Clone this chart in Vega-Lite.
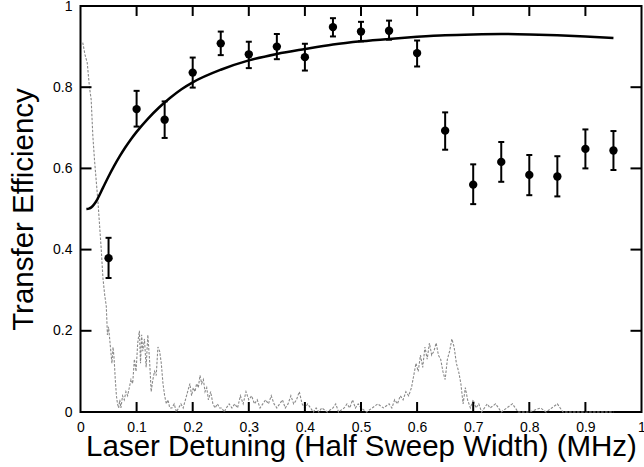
{
  "$schema": "https://vega.github.io/schema/vega-lite/v6.json",
  "width": 561,
  "height": 406,
  "autosize": {"type": "none"},
  "padding": {"left": 80.5, "top": 6, "right": 2.5, "bottom": 55},
  "background": "white",
  "config": {
    "view": {"stroke": "black", "strokeWidth": 2},
    "font": "Liberation Sans",
    "axis": {
      "domain": false,
      "grid": false,
      "ticks": false,
      "labelColor": "black",
      "labelFontSize": 14,
      "titleFontSize": 29.5,
      "titleFontWeight": "normal",
      "titleColor": "black",
      "labelOverlap": false,
      "labelBound": false,
      "labelFlush": false
    }
  },
  "datasets": {
    "xticks": [{"v": 0.1}, {"v": 0.2}, {"v": 0.3}, {"v": 0.4}, {"v": 0.5}, {"v": 0.6}, {"v": 0.7}, {"v": 0.8}, {"v": 0.9}],
    "yticks": [{"v": 0.2}, {"v": 0.4}, {"v": 0.6}, {"v": 0.8}],
    "spectrum": [
      {"x": 0.004, "y": 0.91}, {"x": 0.008, "y": 0.88}, {"x": 0.012, "y": 0.86}, {"x": 0.016, "y": 0.8},
      {"x": 0.019, "y": 0.77}, {"x": 0.022, "y": 0.68}, {"x": 0.025, "y": 0.62}, {"x": 0.028, "y": 0.57},
      {"x": 0.031, "y": 0.52}, {"x": 0.034, "y": 0.46}, {"x": 0.037, "y": 0.4}, {"x": 0.04, "y": 0.33},
      {"x": 0.043, "y": 0.29}, {"x": 0.046, "y": 0.26}, {"x": 0.048, "y": 0.19}, {"x": 0.05, "y": 0.21},
      {"x": 0.052, "y": 0.18}, {"x": 0.054, "y": 0.15}, {"x": 0.056, "y": 0.12}, {"x": 0.058, "y": 0.16},
      {"x": 0.06, "y": 0.13}, {"x": 0.062, "y": 0.08}, {"x": 0.064, "y": 0.04}, {"x": 0.066, "y": 0.02},
      {"x": 0.068, "y": 0.01}, {"x": 0.07, "y": 0.03}, {"x": 0.072, "y": 0.01}, {"x": 0.075, "y": 0.04},
      {"x": 0.078, "y": 0.03}, {"x": 0.081, "y": 0.05}, {"x": 0.084, "y": 0.04}, {"x": 0.087, "y": 0.06},
      {"x": 0.09, "y": 0.08}, {"x": 0.093, "y": 0.07}, {"x": 0.096, "y": 0.13}, {"x": 0.099, "y": 0.1},
      {"x": 0.102, "y": 0.17}, {"x": 0.105, "y": 0.2}, {"x": 0.107, "y": 0.12}, {"x": 0.109, "y": 0.19},
      {"x": 0.111, "y": 0.15}, {"x": 0.114, "y": 0.18}, {"x": 0.117, "y": 0.11}, {"x": 0.12, "y": 0.19},
      {"x": 0.123, "y": 0.13}, {"x": 0.126, "y": 0.05}, {"x": 0.129, "y": 0.08}, {"x": 0.132, "y": 0.1},
      {"x": 0.135, "y": 0.09}, {"x": 0.138, "y": 0.16}, {"x": 0.141, "y": 0.15}, {"x": 0.144, "y": 0.12},
      {"x": 0.147, "y": 0.07}, {"x": 0.15, "y": 0.04}, {"x": 0.153, "y": 0.02}, {"x": 0.156, "y": 0.03},
      {"x": 0.159, "y": 0.01}, {"x": 0.163, "y": 0.01}, {"x": 0.167, "y": 0.02}, {"x": 0.171, "y": 0.0},
      {"x": 0.175, "y": 0.01}, {"x": 0.179, "y": 0.02}, {"x": 0.183, "y": 0.01}, {"x": 0.187, "y": 0.03},
      {"x": 0.191, "y": 0.05}, {"x": 0.195, "y": 0.07}, {"x": 0.198, "y": 0.04}, {"x": 0.201, "y": 0.06},
      {"x": 0.204, "y": 0.05}, {"x": 0.207, "y": 0.07}, {"x": 0.21, "y": 0.06}, {"x": 0.213, "y": 0.09},
      {"x": 0.216, "y": 0.07}, {"x": 0.219, "y": 0.08}, {"x": 0.222, "y": 0.05}, {"x": 0.225, "y": 0.06},
      {"x": 0.228, "y": 0.03}, {"x": 0.232, "y": 0.05}, {"x": 0.236, "y": 0.02}, {"x": 0.24, "y": 0.01},
      {"x": 0.244, "y": 0.02}, {"x": 0.248, "y": 0.01}, {"x": 0.252, "y": 0.01}, {"x": 0.256, "y": 0.0},
      {"x": 0.26, "y": 0.01}, {"x": 0.265, "y": 0.02}, {"x": 0.27, "y": 0.01}, {"x": 0.275, "y": 0.02},
      {"x": 0.28, "y": 0.01}, {"x": 0.285, "y": 0.04}, {"x": 0.29, "y": 0.02}, {"x": 0.295, "y": 0.05},
      {"x": 0.3, "y": 0.03}, {"x": 0.305, "y": 0.04}, {"x": 0.31, "y": 0.02}, {"x": 0.315, "y": 0.03},
      {"x": 0.32, "y": 0.01}, {"x": 0.325, "y": 0.02}, {"x": 0.33, "y": 0.03}, {"x": 0.335, "y": 0.02},
      {"x": 0.34, "y": 0.04}, {"x": 0.345, "y": 0.02}, {"x": 0.35, "y": 0.01}, {"x": 0.355, "y": 0.02},
      {"x": 0.36, "y": 0.03}, {"x": 0.365, "y": 0.01}, {"x": 0.37, "y": 0.02}, {"x": 0.375, "y": 0.04},
      {"x": 0.38, "y": 0.02}, {"x": 0.385, "y": 0.03}, {"x": 0.39, "y": 0.05}, {"x": 0.395, "y": 0.02},
      {"x": 0.4, "y": 0.01}, {"x": 0.405, "y": 0.02}, {"x": 0.41, "y": 0.01}, {"x": 0.415, "y": 0.0},
      {"x": 0.42, "y": 0.01}, {"x": 0.425, "y": 0.0}, {"x": 0.43, "y": 0.01}, {"x": 0.44, "y": 0.0},
      {"x": 0.45, "y": 0.01}, {"x": 0.455, "y": 0.02}, {"x": 0.46, "y": 0.0}, {"x": 0.47, "y": 0.01},
      {"x": 0.475, "y": 0.02}, {"x": 0.48, "y": 0.01}, {"x": 0.485, "y": 0.03}, {"x": 0.49, "y": 0.01},
      {"x": 0.495, "y": 0.02}, {"x": 0.5, "y": 0.01}, {"x": 0.51, "y": 0.0}, {"x": 0.52, "y": 0.01},
      {"x": 0.53, "y": 0.02}, {"x": 0.54, "y": 0.01}, {"x": 0.55, "y": 0.02}, {"x": 0.555, "y": 0.01},
      {"x": 0.56, "y": 0.03}, {"x": 0.565, "y": 0.02}, {"x": 0.57, "y": 0.04}, {"x": 0.575, "y": 0.03},
      {"x": 0.58, "y": 0.05}, {"x": 0.585, "y": 0.04}, {"x": 0.59, "y": 0.06}, {"x": 0.594, "y": 0.09},
      {"x": 0.598, "y": 0.12}, {"x": 0.602, "y": 0.1}, {"x": 0.606, "y": 0.14}, {"x": 0.61, "y": 0.11},
      {"x": 0.614, "y": 0.16}, {"x": 0.618, "y": 0.13}, {"x": 0.622, "y": 0.17}, {"x": 0.626, "y": 0.14},
      {"x": 0.63, "y": 0.15}, {"x": 0.634, "y": 0.17}, {"x": 0.638, "y": 0.14}, {"x": 0.642, "y": 0.13},
      {"x": 0.646, "y": 0.1}, {"x": 0.65, "y": 0.08}, {"x": 0.654, "y": 0.13}, {"x": 0.658, "y": 0.15},
      {"x": 0.662, "y": 0.18}, {"x": 0.666, "y": 0.16}, {"x": 0.67, "y": 0.12}, {"x": 0.674, "y": 0.1},
      {"x": 0.678, "y": 0.07}, {"x": 0.682, "y": 0.02}, {"x": 0.686, "y": 0.06}, {"x": 0.69, "y": 0.03},
      {"x": 0.695, "y": 0.01}, {"x": 0.7, "y": 0.03}, {"x": 0.705, "y": 0.01}, {"x": 0.71, "y": 0.02},
      {"x": 0.715, "y": 0.0}, {"x": 0.72, "y": 0.01}, {"x": 0.725, "y": 0.02}, {"x": 0.73, "y": 0.01},
      {"x": 0.74, "y": 0.02}, {"x": 0.745, "y": 0.01}, {"x": 0.75, "y": 0.0}, {"x": 0.76, "y": 0.01},
      {"x": 0.77, "y": 0.02}, {"x": 0.775, "y": 0.01}, {"x": 0.78, "y": 0.0}, {"x": 0.8, "y": 0.0},
      {"x": 0.82, "y": 0.01}, {"x": 0.83, "y": 0.0}, {"x": 0.84, "y": 0.01}, {"x": 0.85, "y": 0.02},
      {"x": 0.855, "y": 0.01}, {"x": 0.86, "y": 0.0}, {"x": 0.95, "y": 0.0}
    ],
    "fit": [
      {"x": 0.0105, "y": 0.5}, {"x": 0.015, "y": 0.501}, {"x": 0.02, "y": 0.505}, {"x": 0.025, "y": 0.513},
      {"x": 0.03, "y": 0.524}, {"x": 0.04, "y": 0.552}, {"x": 0.05, "y": 0.58}, {"x": 0.06, "y": 0.606},
      {"x": 0.07, "y": 0.63}, {"x": 0.08, "y": 0.652}, {"x": 0.09, "y": 0.672}, {"x": 0.1, "y": 0.69},
      {"x": 0.12, "y": 0.722}, {"x": 0.14, "y": 0.75}, {"x": 0.16, "y": 0.774}, {"x": 0.18, "y": 0.795},
      {"x": 0.2, "y": 0.812}, {"x": 0.25, "y": 0.843}, {"x": 0.3, "y": 0.866}, {"x": 0.35, "y": 0.882},
      {"x": 0.4, "y": 0.894}, {"x": 0.45, "y": 0.905}, {"x": 0.5, "y": 0.913}, {"x": 0.55, "y": 0.919},
      {"x": 0.6, "y": 0.924}, {"x": 0.65, "y": 0.928}, {"x": 0.7, "y": 0.93}, {"x": 0.75, "y": 0.931},
      {"x": 0.8, "y": 0.93}, {"x": 0.85, "y": 0.928}, {"x": 0.9, "y": 0.925}, {"x": 0.95, "y": 0.921}
    ],
    "points": [
      {"x": 0.05, "y": 0.379, "lo": 0.33, "hi": 0.429},
      {"x": 0.1, "y": 0.746, "lo": 0.703, "hi": 0.791},
      {"x": 0.15, "y": 0.72, "lo": 0.675, "hi": 0.765},
      {"x": 0.2, "y": 0.836, "lo": 0.799, "hi": 0.873},
      {"x": 0.25, "y": 0.908, "lo": 0.879, "hi": 0.937},
      {"x": 0.3, "y": 0.881, "lo": 0.847, "hi": 0.912},
      {"x": 0.35, "y": 0.9, "lo": 0.869, "hi": 0.931},
      {"x": 0.4, "y": 0.874, "lo": 0.841, "hi": 0.907},
      {"x": 0.45, "y": 0.948, "lo": 0.925, "hi": 0.97},
      {"x": 0.5, "y": 0.937, "lo": 0.913, "hi": 0.961},
      {"x": 0.55, "y": 0.939, "lo": 0.917, "hi": 0.964},
      {"x": 0.6, "y": 0.884, "lo": 0.851, "hi": 0.915},
      {"x": 0.65, "y": 0.693, "lo": 0.646, "hi": 0.738},
      {"x": 0.7, "y": 0.56, "lo": 0.512, "hi": 0.61},
      {"x": 0.75, "y": 0.616, "lo": 0.567, "hi": 0.665},
      {"x": 0.8, "y": 0.584, "lo": 0.534, "hi": 0.633},
      {"x": 0.85, "y": 0.58, "lo": 0.531, "hi": 0.63},
      {"x": 0.9, "y": 0.648, "lo": 0.6, "hi": 0.696},
      {"x": 0.95, "y": 0.644, "lo": 0.596, "hi": 0.692}
    ]
  },
  "layer": [
    {
      "data": {"name": "spectrum"},
      "mark": {"type": "line", "color": "#8a8a8a", "strokeWidth": 1.1, "strokeDash": [2.5, 1.5]},
      "encoding": {
        "x": {
          "field": "x", "type": "quantitative",
          "title": "Laser Detuning (Half Sweep Width) (MHz)",
          "scale": {"domain": [0, 1], "nice": false, "zero": false},
          "axis": {
            "orient": "bottom",
            "values": [0, 0.1, 0.2, 0.3, 0.4, 0.5, 0.6, 0.7, 0.8, 0.9, 1],
            "format": "~g",
            "labelPadding": 8,
            "title": "Laser Detuning (Half Sweep Width) (MHz)",
            "titleBaseline": "alphabetic",
            "titleY": 43
          }
        },
        "y": {
          "field": "y", "type": "quantitative",
          "title": "Transfer Efficiency",
          "scale": {"domain": [0, 1], "nice": false},
          "axis": {
            "orient": "left",
            "values": [0, 0.2, 0.4, 0.6, 0.8, 1],
            "format": "~g",
            "labelPadding": 8.5,
            "title": "Transfer Efficiency",
            "titleBaseline": "alphabetic",
            "titleX": -48
          }
        }
      }
    },
    {
      "data": {"name": "xticks"},
      "mark": {"type": "rule", "color": "black", "strokeWidth": 2},
      "encoding": {
        "x": {"field": "v", "type": "quantitative", "title": "Laser Detuning (Half Sweep Width) (MHz)"},
        "y": {"datum": 0, "title": "Transfer Efficiency"},
        "y2": {"datum": 0.0246}
      }
    },
    {
      "data": {"name": "xticks"},
      "mark": {"type": "rule", "color": "black", "strokeWidth": 2},
      "encoding": {
        "x": {"field": "v", "type": "quantitative", "title": "Laser Detuning (Half Sweep Width) (MHz)"},
        "y": {"datum": 1, "title": "Transfer Efficiency"},
        "y2": {"datum": 0.9754}
      }
    },
    {
      "data": {"name": "yticks"},
      "mark": {"type": "rule", "color": "black", "strokeWidth": 2},
      "encoding": {
        "y": {"field": "v", "type": "quantitative", "title": "Transfer Efficiency"},
        "x": {"datum": 0, "title": "Laser Detuning (Half Sweep Width) (MHz)"},
        "x2": {"datum": 0.0196}
      }
    },
    {
      "data": {"name": "yticks"},
      "mark": {"type": "rule", "color": "black", "strokeWidth": 2},
      "encoding": {
        "y": {"field": "v", "type": "quantitative", "title": "Transfer Efficiency"},
        "x": {"datum": 1, "title": "Laser Detuning (Half Sweep Width) (MHz)"},
        "x2": {"datum": 0.9804}
      }
    },
    {
      "data": {"name": "fit"},
      "mark": {"type": "line", "color": "black", "strokeWidth": 2.5, "interpolate": "monotone"},
      "encoding": {
        "x": {"field": "x", "type": "quantitative", "title": "Laser Detuning (Half Sweep Width) (MHz)"},
        "y": {"field": "y", "type": "quantitative", "title": "Transfer Efficiency"}
      }
    },
    {
      "data": {"name": "points"},
      "mark": {"type": "rule", "color": "black", "strokeWidth": 2},
      "encoding": {
        "x": {"field": "x", "type": "quantitative", "title": "Laser Detuning (Half Sweep Width) (MHz)"},
        "y": {"field": "lo", "type": "quantitative", "title": "Transfer Efficiency"},
        "y2": {"field": "hi"}
      }
    },
    {
      "data": {"name": "points"},
      "mark": {"type": "tick", "orient": "horizontal", "color": "black", "size": 6, "thickness": 2, "opacity": 1},
      "encoding": {
        "x": {"field": "x", "type": "quantitative", "title": "Laser Detuning (Half Sweep Width) (MHz)"},
        "y": {"field": "lo", "type": "quantitative", "title": "Transfer Efficiency"}
      }
    },
    {
      "data": {"name": "points"},
      "mark": {"type": "tick", "orient": "horizontal", "color": "black", "size": 6, "thickness": 2, "opacity": 1},
      "encoding": {
        "x": {"field": "x", "type": "quantitative", "title": "Laser Detuning (Half Sweep Width) (MHz)"},
        "y": {"field": "hi", "type": "quantitative", "title": "Transfer Efficiency"}
      }
    },
    {
      "data": {"name": "points"},
      "mark": {"type": "point", "filled": true, "color": "black", "size": 70, "opacity": 1},
      "encoding": {
        "x": {"field": "x", "type": "quantitative", "title": "Laser Detuning (Half Sweep Width) (MHz)"},
        "y": {"field": "y", "type": "quantitative", "title": "Transfer Efficiency"}
      }
    }
  ]
}
